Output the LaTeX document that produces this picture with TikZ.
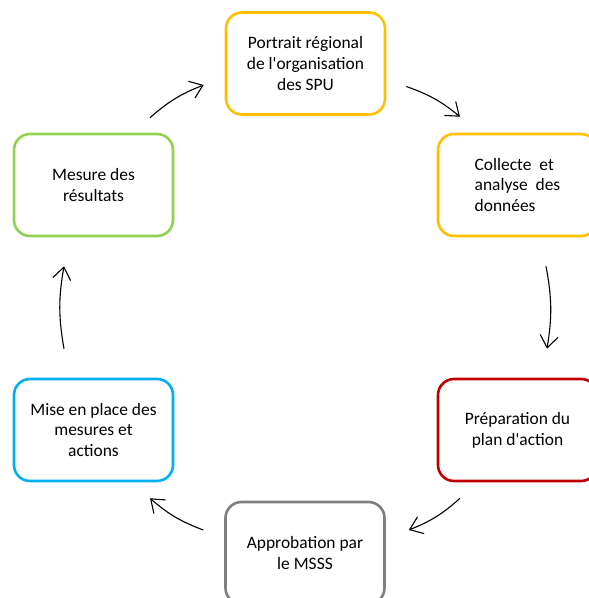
\documentclass[tikz,border=0pt]{standalone}
\usepackage{fontspec}
\setmainfont{Carlito}[Ligatures=TeXOff]
\usetikzlibrary{arrows.meta}

\definecolor{spuyellow}{HTML}{FFC000}
\definecolor{spured}{HTML}{C00000}
\definecolor{spugrey}{HTML}{7F7F7F}
\definecolor{spublue}{HTML}{00B0F0}
\definecolor{spugreen}{HTML}{92D050}

\begin{document}
\begin{tikzpicture}[x=1bp, y=-1bp,
    stagebox/.style={draw=#1, line width=2.6bp, rounded corners=16bp,
      minimum width=159bp, minimum height=102bp, inner sep=0pt,
      align=center, font=\fontsize{17.5}{21}\selectfont},
    cyc/.style={-{Straight Barb[length=12bp,width=18bp]}, line width=1.1bp, bend left=10}]

    \useasboundingbox (0,0) rectangle (589,598);
    \clip (0,0) rectangle (589,598);

    % the six stages, clockwise from the top
    \node[stagebox=spuyellow] (portrait) at (305.5,63.5) {Portrait régional\\de l'organisation\\des SPU};
    \node[stagebox=spuyellow, align=left] (collecte) at (517.5,185) {Collecte~~et\\analyse~~des\\données};
    \node[stagebox=spured] (preparation) at (517.5,430) {Préparation du\\plan d'action};
    \node[stagebox=spugrey] (approbation) at (305,553) {Approbation par\\le MSSS};
    \node[stagebox=spublue] (miseenplace) at (93.5,430) {Mise en place des\\mesures et\\actions};
    \node[stagebox=spugreen] (mesure) at (93.5,185) {Mesure des\\résultats};

    % arrows between the stages
    \draw[cyc] ([shift={(20,23)}]portrait.east)         to ([shift={(-57.5,-16)}]collecte.north);
    \draw[cyc] ([shift={(28.5,29)}]collecte.south)      to ([shift={(29.5,-29)}]preparation.north);
    \draw[cyc] ([shift={(-57.5,16)}]preparation.south)  to ([shift={(23,-23)}]approbation.east);
    \draw[cyc] ([shift={(-21,-23)}]approbation.west)    to ([shift={(56.5,16)}]miseenplace.south);
    \draw[cyc] ([shift={(-29.5,-29)}]miseenplace.north) to ([shift={(-29.5,29)}]mesure.south);
    \draw[cyc] ([shift={(56.5,-15)}]mesure.north)       to ([shift={(-21,21.5)}]portrait.west);

\end{tikzpicture}
\end{document}
